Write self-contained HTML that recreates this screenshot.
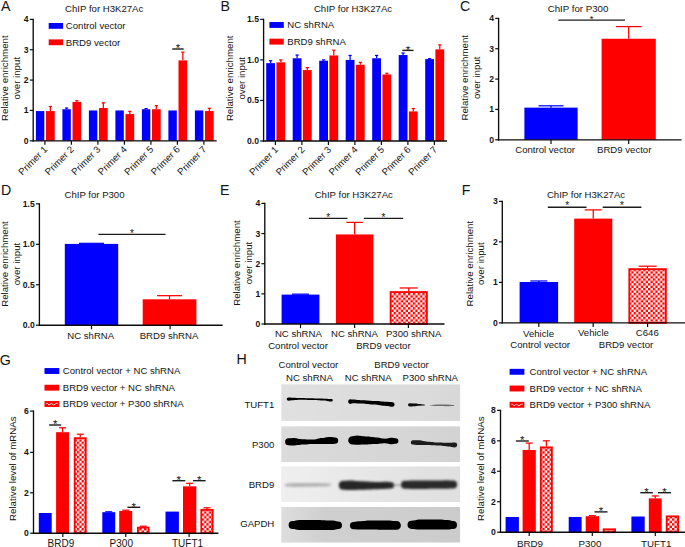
<!DOCTYPE html>
<html lang="en">
<head>
<meta charset="utf-8">
<title>BRD9 / P300 ChIP and expression figure</title>
<style>
html,body{margin:0;padding:0;background:#fff;}
body{width:685px;height:547px;overflow:hidden;}
svg{display:block;}
svg text{font-family:"Liberation Sans",Arial,Helvetica,sans-serif;}
</style>
</head>
<body>
<svg width="685" height="547" viewBox="0 0 685 547">
<rect width="685" height="547" fill="#fff"/>
<defs>
<pattern id="chk" width="4.8" height="4.8" patternUnits="userSpaceOnUse">
<rect width="4.8" height="4.8" fill="#fff"/>
<rect x="0" y="0" width="2.4" height="2.4" fill="#fe0000"/>
<rect x="2.4" y="2.4" width="2.4" height="2.4" fill="#fe0000"/>
</pattern>
<filter id="bl0" x="-5%" y="-60%" width="110%" height="220%"><feGaussianBlur stdDeviation="0.75"/></filter>
<filter id="bl1" x="-5%" y="-60%" width="110%" height="220%"><feGaussianBlur stdDeviation="1.2"/></filter>

<linearGradient id="gr0" x1="0" y1="0" x2="1" y2="0"><stop offset="0" stop-color="#fff" stop-opacity="0.12"/><stop offset="0.5" stop-color="#fff" stop-opacity="0"/><stop offset="1" stop-color="#000" stop-opacity="0.02"/></linearGradient>
<linearGradient id="gr1" x1="0" y1="0" x2="1" y2="0"><stop offset="0" stop-color="#fff" stop-opacity="0.12"/><stop offset="0.6" stop-color="#fff" stop-opacity="0"/><stop offset="1" stop-color="#000" stop-opacity="0.02"/></linearGradient>
<linearGradient id="gr2" x1="0" y1="0" x2="1" y2="0"><stop offset="0" stop-color="#fff" stop-opacity="0.35"/><stop offset="0.4" stop-color="#fff" stop-opacity="0.05"/><stop offset="1" stop-color="#000" stop-opacity="0.03"/></linearGradient>
<linearGradient id="gr3" x1="0" y1="0" x2="1" y2="0"><stop offset="0" stop-color="#fff" stop-opacity="0.3"/><stop offset="0.25" stop-color="#fff" stop-opacity="0"/><stop offset="1" stop-color="#000" stop-opacity="0.02"/></linearGradient>

<clipPath id="cp0"><rect x="281.2" y="384.2" width="179.1" height="36.7"/></clipPath><clipPath id="cp1"><rect x="281.2" y="426.2" width="179.1" height="35.8"/></clipPath><clipPath id="cp2"><rect x="281.2" y="466.3" width="179.1" height="35.7"/></clipPath><clipPath id="cp3"><rect x="281.2" y="506.8" width="179.1" height="35.9"/></clipPath>
</defs>
<text x="1.00" y="10.60" font-size="14.2" text-anchor="start" fill="#141414">A</text>
<text x="104.20" y="11.80" font-size="9.6" text-anchor="middle" fill="#141414">ChIP for H3K27Ac</text>
<text x="28.60" y="143.80" font-size="8.6" text-anchor="end" font-weight="bold" fill="#141414">0</text>
<text x="28.60" y="113.45" font-size="8.6" text-anchor="end" font-weight="bold" fill="#141414">1</text>
<text x="28.60" y="83.10" font-size="8.6" text-anchor="end" font-weight="bold" fill="#141414">2</text>
<text x="28.60" y="52.75" font-size="8.6" text-anchor="end" font-weight="bold" fill="#141414">3</text>
<text x="28.60" y="22.40" font-size="8.6" text-anchor="end" font-weight="bold" fill="#141414">4</text>
<text x="7.90" y="78.20" font-size="9.7" text-anchor="middle" transform="rotate(-90 7.90 78.20)" fill="#141414">Relative enrichment</text>
<text x="19.90" y="78.20" font-size="9.7" text-anchor="middle" transform="rotate(-90 19.90 78.20)" fill="#141414">over input</text>
<rect x="35.90" y="111.06" width="8.40" height="29.74" fill="#0000fe"/>
<line x1="50.35" y1="111.06" x2="50.35" y2="106.50" stroke="#fe0000" stroke-width="1.25"/>
<line x1="48.75" y1="106.50" x2="51.95" y2="106.50" stroke="#fe0000" stroke-width="1.25"/>
<rect x="46.00" y="111.06" width="8.70" height="29.74" fill="#fe0000"/>
<text x="48.00" y="150.10" font-size="9.6" text-anchor="end" transform="rotate(-45 48.00 150.10)" fill="#141414">Primer 1</text>
<line x1="66.60" y1="109.24" x2="66.60" y2="108.02" stroke="#0000fe" stroke-width="1.25"/>
<line x1="65.00" y1="108.02" x2="68.20" y2="108.02" stroke="#0000fe" stroke-width="1.25"/>
<rect x="62.40" y="109.24" width="8.40" height="31.56" fill="#0000fe"/>
<line x1="76.85" y1="101.95" x2="76.85" y2="100.74" stroke="#fe0000" stroke-width="1.25"/>
<line x1="75.25" y1="100.74" x2="78.45" y2="100.74" stroke="#fe0000" stroke-width="1.25"/>
<rect x="72.50" y="101.95" width="8.70" height="38.85" fill="#fe0000"/>
<text x="74.50" y="150.10" font-size="9.6" text-anchor="end" transform="rotate(-45 74.50 150.10)" fill="#141414">Primer 2</text>
<rect x="88.90" y="110.45" width="8.40" height="30.35" fill="#0000fe"/>
<line x1="103.35" y1="108.02" x2="103.35" y2="102.86" stroke="#fe0000" stroke-width="1.25"/>
<line x1="101.75" y1="102.86" x2="104.95" y2="102.86" stroke="#fe0000" stroke-width="1.25"/>
<rect x="99.00" y="108.02" width="8.70" height="32.78" fill="#fe0000"/>
<text x="101.00" y="150.10" font-size="9.6" text-anchor="end" transform="rotate(-45 101.00 150.10)" fill="#141414">Primer 3</text>
<rect x="115.40" y="110.45" width="8.40" height="30.35" fill="#0000fe"/>
<line x1="129.85" y1="114.09" x2="129.85" y2="111.36" stroke="#fe0000" stroke-width="1.25"/>
<line x1="128.25" y1="111.36" x2="131.45" y2="111.36" stroke="#fe0000" stroke-width="1.25"/>
<rect x="125.50" y="114.09" width="8.70" height="26.71" fill="#fe0000"/>
<text x="127.50" y="150.10" font-size="9.6" text-anchor="end" transform="rotate(-45 127.50 150.10)" fill="#141414">Primer 4</text>
<line x1="146.10" y1="109.24" x2="146.10" y2="108.63" stroke="#0000fe" stroke-width="1.25"/>
<line x1="144.50" y1="108.63" x2="147.70" y2="108.63" stroke="#0000fe" stroke-width="1.25"/>
<rect x="141.90" y="109.24" width="8.40" height="31.56" fill="#0000fe"/>
<line x1="156.35" y1="109.24" x2="156.35" y2="105.59" stroke="#fe0000" stroke-width="1.25"/>
<line x1="154.75" y1="105.59" x2="157.95" y2="105.59" stroke="#fe0000" stroke-width="1.25"/>
<rect x="152.00" y="109.24" width="8.70" height="31.56" fill="#fe0000"/>
<text x="154.00" y="150.10" font-size="9.6" text-anchor="end" transform="rotate(-45 154.00 150.10)" fill="#141414">Primer 5</text>
<rect x="168.40" y="110.45" width="8.40" height="30.35" fill="#0000fe"/>
<line x1="182.85" y1="60.37" x2="182.85" y2="52.18" stroke="#fe0000" stroke-width="1.25"/>
<line x1="181.25" y1="52.18" x2="184.45" y2="52.18" stroke="#fe0000" stroke-width="1.25"/>
<rect x="178.50" y="60.37" width="8.70" height="80.43" fill="#fe0000"/>
<text x="180.50" y="150.10" font-size="9.6" text-anchor="end" transform="rotate(-45 180.50 150.10)" fill="#141414">Primer 6</text>
<rect x="194.90" y="110.45" width="8.40" height="30.35" fill="#0000fe"/>
<line x1="209.35" y1="111.06" x2="209.35" y2="108.33" stroke="#fe0000" stroke-width="1.25"/>
<line x1="207.75" y1="108.33" x2="210.95" y2="108.33" stroke="#fe0000" stroke-width="1.25"/>
<rect x="205.00" y="111.06" width="8.70" height="29.74" fill="#fe0000"/>
<text x="207.00" y="150.10" font-size="9.6" text-anchor="end" transform="rotate(-45 207.00 150.10)" fill="#141414">Primer 7</text>
<rect x="48.70" y="23.00" width="14.40" height="5.80" fill="#0000fe"/>
<text x="65.80" y="29.00" font-size="9.6" text-anchor="start" fill="#141414">Control vector</text>
<rect x="48.70" y="39.40" width="14.40" height="5.80" fill="#fe0000"/>
<text x="65.80" y="45.50" font-size="9.6" text-anchor="start" fill="#141414">BRD9 vector</text>
<line x1="172.30" y1="49.00" x2="183.70" y2="49.00" stroke="#1c1c1c" stroke-width="1.4"/>
<text x="178.00" y="52.28" font-size="11.5" text-anchor="middle" fill="#141414">*</text>
<text x="220.60" y="10.60" font-size="14.2" text-anchor="start" fill="#141414">B</text>
<text x="353.00" y="11.80" font-size="9.6" text-anchor="middle" fill="#141414">ChIP for H3K27Ac</text>
<text x="259.00" y="144.00" font-size="8.6" text-anchor="end" font-weight="bold" fill="#141414">0.0</text>
<text x="259.00" y="103.45" font-size="8.6" text-anchor="end" font-weight="bold" fill="#141414">0.5</text>
<text x="259.00" y="62.90" font-size="8.6" text-anchor="end" font-weight="bold" fill="#141414">1.0</text>
<text x="259.00" y="22.35" font-size="8.6" text-anchor="end" font-weight="bold" fill="#141414">1.5</text>
<text x="232.90" y="78.30" font-size="9.7" text-anchor="middle" transform="rotate(-90 232.90 78.30)" fill="#141414">Relative enrichment</text>
<text x="244.60" y="78.30" font-size="9.7" text-anchor="middle" transform="rotate(-90 244.60 78.30)" fill="#141414">over input</text>
<line x1="270.60" y1="63.14" x2="270.60" y2="60.71" stroke="#0000fe" stroke-width="1.25"/>
<line x1="269.00" y1="60.71" x2="272.20" y2="60.71" stroke="#0000fe" stroke-width="1.25"/>
<rect x="266.20" y="63.14" width="8.80" height="77.86" fill="#0000fe"/>
<line x1="280.80" y1="62.33" x2="280.80" y2="59.90" stroke="#fe0000" stroke-width="1.25"/>
<line x1="279.20" y1="59.90" x2="282.40" y2="59.90" stroke="#fe0000" stroke-width="1.25"/>
<rect x="276.40" y="62.33" width="8.80" height="78.67" fill="#fe0000"/>
<text x="278.80" y="150.30" font-size="9.6" text-anchor="end" transform="rotate(-45 278.80 150.30)" fill="#141414">Primer 1</text>
<line x1="297.10" y1="58.28" x2="297.10" y2="55.03" stroke="#0000fe" stroke-width="1.25"/>
<line x1="295.50" y1="55.03" x2="298.70" y2="55.03" stroke="#0000fe" stroke-width="1.25"/>
<rect x="292.70" y="58.28" width="8.80" height="82.72" fill="#0000fe"/>
<line x1="307.30" y1="70.04" x2="307.30" y2="67.60" stroke="#fe0000" stroke-width="1.25"/>
<line x1="305.70" y1="67.60" x2="308.90" y2="67.60" stroke="#fe0000" stroke-width="1.25"/>
<rect x="302.90" y="70.04" width="8.80" height="70.96" fill="#fe0000"/>
<text x="305.30" y="150.30" font-size="9.6" text-anchor="end" transform="rotate(-45 305.30 150.30)" fill="#141414">Primer 2</text>
<line x1="323.60" y1="60.71" x2="323.60" y2="59.90" stroke="#0000fe" stroke-width="1.25"/>
<line x1="322.00" y1="59.90" x2="325.20" y2="59.90" stroke="#0000fe" stroke-width="1.25"/>
<rect x="319.20" y="60.71" width="8.80" height="80.29" fill="#0000fe"/>
<line x1="333.80" y1="55.44" x2="333.80" y2="50.17" stroke="#fe0000" stroke-width="1.25"/>
<line x1="332.20" y1="50.17" x2="335.40" y2="50.17" stroke="#fe0000" stroke-width="1.25"/>
<rect x="329.40" y="55.44" width="8.80" height="85.56" fill="#fe0000"/>
<text x="331.80" y="150.30" font-size="9.6" text-anchor="end" transform="rotate(-45 331.80 150.30)" fill="#141414">Primer 3</text>
<line x1="350.10" y1="59.90" x2="350.10" y2="55.44" stroke="#0000fe" stroke-width="1.25"/>
<line x1="348.50" y1="55.44" x2="351.70" y2="55.44" stroke="#0000fe" stroke-width="1.25"/>
<rect x="345.70" y="59.90" width="8.80" height="81.10" fill="#0000fe"/>
<line x1="360.30" y1="64.77" x2="360.30" y2="62.33" stroke="#fe0000" stroke-width="1.25"/>
<line x1="358.70" y1="62.33" x2="361.90" y2="62.33" stroke="#fe0000" stroke-width="1.25"/>
<rect x="355.90" y="64.77" width="8.80" height="76.23" fill="#fe0000"/>
<text x="358.30" y="150.30" font-size="9.6" text-anchor="end" transform="rotate(-45 358.30 150.30)" fill="#141414">Primer 4</text>
<line x1="376.60" y1="58.28" x2="376.60" y2="55.44" stroke="#0000fe" stroke-width="1.25"/>
<line x1="375.00" y1="55.44" x2="378.20" y2="55.44" stroke="#0000fe" stroke-width="1.25"/>
<rect x="372.20" y="58.28" width="8.80" height="82.72" fill="#0000fe"/>
<line x1="386.80" y1="74.50" x2="386.80" y2="73.28" stroke="#fe0000" stroke-width="1.25"/>
<line x1="385.20" y1="73.28" x2="388.40" y2="73.28" stroke="#fe0000" stroke-width="1.25"/>
<rect x="382.40" y="74.50" width="8.80" height="66.50" fill="#fe0000"/>
<text x="384.80" y="150.30" font-size="9.6" text-anchor="end" transform="rotate(-45 384.80 150.30)" fill="#141414">Primer 5</text>
<line x1="403.10" y1="55.03" x2="403.10" y2="53.01" stroke="#0000fe" stroke-width="1.25"/>
<line x1="401.50" y1="53.01" x2="404.70" y2="53.01" stroke="#0000fe" stroke-width="1.25"/>
<rect x="398.70" y="55.03" width="8.80" height="85.97" fill="#0000fe"/>
<line x1="413.30" y1="111.40" x2="413.30" y2="108.56" stroke="#fe0000" stroke-width="1.25"/>
<line x1="411.70" y1="108.56" x2="414.90" y2="108.56" stroke="#fe0000" stroke-width="1.25"/>
<rect x="408.90" y="111.40" width="8.80" height="29.60" fill="#fe0000"/>
<text x="411.30" y="150.30" font-size="9.6" text-anchor="end" transform="rotate(-45 411.30 150.30)" fill="#141414">Primer 6</text>
<line x1="429.60" y1="59.09" x2="429.60" y2="58.68" stroke="#0000fe" stroke-width="1.25"/>
<line x1="428.00" y1="58.68" x2="431.20" y2="58.68" stroke="#0000fe" stroke-width="1.25"/>
<rect x="425.20" y="59.09" width="8.80" height="81.91" fill="#0000fe"/>
<line x1="439.80" y1="49.36" x2="439.80" y2="44.90" stroke="#fe0000" stroke-width="1.25"/>
<line x1="438.20" y1="44.90" x2="441.40" y2="44.90" stroke="#fe0000" stroke-width="1.25"/>
<rect x="435.40" y="49.36" width="8.80" height="91.64" fill="#fe0000"/>
<text x="437.80" y="150.30" font-size="9.6" text-anchor="end" transform="rotate(-45 437.80 150.30)" fill="#141414">Primer 7</text>
<rect x="269.40" y="22.00" width="14.40" height="5.90" fill="#0000fe"/>
<text x="287.30" y="28.30" font-size="9.6" text-anchor="start" fill="#141414">NC shRNA</text>
<rect x="269.40" y="38.70" width="14.40" height="5.90" fill="#fe0000"/>
<text x="287.30" y="45.00" font-size="9.6" text-anchor="start" fill="#141414">BRD9 shRNA</text>
<line x1="402.30" y1="50.40" x2="413.50" y2="50.40" stroke="#1c1c1c" stroke-width="1.4"/>
<text x="407.90" y="53.68" font-size="11.5" text-anchor="middle" fill="#141414">*</text>
<text x="460.00" y="10.60" font-size="14.2" text-anchor="start" fill="#141414">C</text>
<text x="578.00" y="12.00" font-size="9.7" text-anchor="middle" fill="#141414">ChIP for P300</text>
<text x="494.00" y="142.80" font-size="8.6" text-anchor="end" font-weight="bold" fill="#141414">0</text>
<text x="494.00" y="112.45" font-size="8.6" text-anchor="end" font-weight="bold" fill="#141414">1</text>
<text x="494.00" y="82.10" font-size="8.6" text-anchor="end" font-weight="bold" fill="#141414">2</text>
<text x="494.00" y="51.75" font-size="8.6" text-anchor="end" font-weight="bold" fill="#141414">3</text>
<text x="494.00" y="21.40" font-size="8.6" text-anchor="end" font-weight="bold" fill="#141414">4</text>
<text x="468.50" y="77.80" font-size="9.7" text-anchor="middle" transform="rotate(-90 468.50 77.80)" fill="#141414">Relative enrichment</text>
<text x="480.50" y="77.80" font-size="9.7" text-anchor="middle" transform="rotate(-90 480.50 77.80)" fill="#141414">over input</text>
<line x1="551.00" y1="107.63" x2="551.00" y2="105.81" stroke="#0000fe" stroke-width="1.25"/>
<line x1="538.50" y1="105.81" x2="563.50" y2="105.81" stroke="#0000fe" stroke-width="1.25"/>
<rect x="524.40" y="107.63" width="53.20" height="32.17" fill="#0000fe"/>
<line x1="628.70" y1="38.73" x2="628.70" y2="26.59" stroke="#fe0000" stroke-width="1.25"/>
<line x1="615.95" y1="26.59" x2="641.45" y2="26.59" stroke="#fe0000" stroke-width="1.25"/>
<rect x="601.60" y="38.73" width="54.20" height="101.07" fill="#fe0000"/>
<text x="545.10" y="153.30" font-size="9.6" text-anchor="middle" fill="#141414">Control vector</text>
<text x="624.20" y="153.30" font-size="9.6" text-anchor="middle" fill="#141414">BRD9 vector</text>
<line x1="558.40" y1="20.10" x2="625.00" y2="20.10" stroke="#1c1c1c" stroke-width="1.4"/>
<text x="591.70" y="22.13" font-size="9.5" text-anchor="middle" fill="#141414">*</text>
<text x="1.00" y="195.00" font-size="14.2" text-anchor="start" fill="#141414">D</text>
<text x="94.50" y="198.40" font-size="9.6" text-anchor="middle" fill="#141414">ChIP for P300</text>
<text x="34.80" y="328.20" font-size="8.6" text-anchor="end" font-weight="bold" fill="#141414">0.0</text>
<text x="34.80" y="287.75" font-size="8.6" text-anchor="end" font-weight="bold" fill="#141414">0.5</text>
<text x="34.80" y="247.30" font-size="8.6" text-anchor="end" font-weight="bold" fill="#141414">1.0</text>
<text x="34.80" y="206.85" font-size="8.6" text-anchor="end" font-weight="bold" fill="#141414">1.5</text>
<text x="7.60" y="264.00" font-size="9.7" text-anchor="middle" transform="rotate(-90 7.60 264.00)" fill="#141414">Relative enrichment</text>
<text x="19.80" y="264.00" font-size="9.7" text-anchor="middle" transform="rotate(-90 19.80 264.00)" fill="#141414">over input</text>
<line x1="91.50" y1="243.90" x2="91.50" y2="243.33" stroke="#0000fe" stroke-width="1.25"/>
<line x1="79.00" y1="243.33" x2="104.00" y2="243.33" stroke="#0000fe" stroke-width="1.25"/>
<rect x="64.80" y="243.90" width="53.40" height="81.30" fill="#0000fe"/>
<line x1="169.55" y1="299.31" x2="169.55" y2="295.67" stroke="#fe0000" stroke-width="1.25"/>
<line x1="157.05" y1="295.67" x2="182.05" y2="295.67" stroke="#fe0000" stroke-width="1.25"/>
<rect x="142.70" y="299.31" width="53.70" height="25.89" fill="#fe0000"/>
<text x="90.70" y="339.00" font-size="9.6" text-anchor="middle" fill="#141414">NC shRNA</text>
<text x="169.00" y="339.00" font-size="9.6" text-anchor="middle" fill="#141414">BRD9 shRNA</text>
<line x1="98.40" y1="234.40" x2="165.50" y2="234.40" stroke="#1c1c1c" stroke-width="1.4"/>
<text x="131.95" y="236.82" font-size="10" text-anchor="middle" fill="#141414">*</text>
<text x="220.00" y="195.00" font-size="14.2" text-anchor="start" fill="#141414">E</text>
<text x="353.80" y="198.20" font-size="9.6" text-anchor="middle" fill="#141414">ChIP for H3K27Ac</text>
<text x="260.20" y="327.00" font-size="8.6" text-anchor="end" font-weight="bold" fill="#141414">0</text>
<text x="260.20" y="296.85" font-size="8.6" text-anchor="end" font-weight="bold" fill="#141414">1</text>
<text x="260.20" y="266.70" font-size="8.6" text-anchor="end" font-weight="bold" fill="#141414">2</text>
<text x="260.20" y="236.55" font-size="8.6" text-anchor="end" font-weight="bold" fill="#141414">3</text>
<text x="260.20" y="206.40" font-size="8.6" text-anchor="end" font-weight="bold" fill="#141414">4</text>
<text x="240.40" y="263.00" font-size="9.7" text-anchor="middle" transform="rotate(-90 240.40 263.00)" fill="#141414">Relative enrichment</text>
<text x="252.40" y="263.00" font-size="9.7" text-anchor="middle" transform="rotate(-90 252.40 263.00)" fill="#141414">over input</text>
<line x1="300.50" y1="294.60" x2="300.50" y2="294.15" stroke="#0000fe" stroke-width="1.25"/>
<line x1="292.00" y1="294.15" x2="309.00" y2="294.15" stroke="#0000fe" stroke-width="1.25"/>
<rect x="281.60" y="294.60" width="37.80" height="29.40" fill="#0000fe"/>
<line x1="354.65" y1="234.45" x2="354.65" y2="222.39" stroke="#fe0000" stroke-width="1.25"/>
<line x1="346.40" y1="222.39" x2="362.90" y2="222.39" stroke="#fe0000" stroke-width="1.25"/>
<rect x="335.90" y="234.45" width="37.50" height="89.55" fill="#fe0000"/>
<line x1="408.75" y1="291.14" x2="408.75" y2="287.97" stroke="#fe0000" stroke-width="1.25"/>
<line x1="399.75" y1="287.97" x2="417.75" y2="287.97" stroke="#fe0000" stroke-width="1.25"/>
<rect x="390.60" y="292.04" width="36.30" height="31.96" fill="url(#chk)" stroke="#fe0000" stroke-width="1.8"/>
<text x="298.40" y="337.00" font-size="9.6" text-anchor="middle" fill="#141414">NC shRNA</text>
<text x="354.50" y="337.00" font-size="9.6" text-anchor="middle" fill="#141414">NC shRNA</text>
<text x="413.70" y="337.00" font-size="9.6" text-anchor="middle" fill="#141414">P300 shRNA</text>
<text x="298.00" y="349.00" font-size="9.6" text-anchor="middle" fill="#141414">Control vector</text>
<text x="383.40" y="349.00" font-size="9.6" text-anchor="middle" fill="#141414">BRD9 vector</text>
<line x1="308.90" y1="218.40" x2="347.40" y2="218.40" stroke="#1c1c1c" stroke-width="1.4"/>
<text x="328.15" y="220.72" font-size="10" text-anchor="middle" fill="#141414">*</text>
<line x1="363.90" y1="218.40" x2="403.20" y2="218.40" stroke="#1c1c1c" stroke-width="1.4"/>
<text x="383.55" y="220.72" font-size="10" text-anchor="middle" fill="#141414">*</text>
<text x="461.80" y="195.20" font-size="14.2" text-anchor="start" fill="#141414">F</text>
<text x="586.00" y="198.00" font-size="9.6" text-anchor="middle" fill="#141414">ChIP for H3K27Ac</text>
<text x="497.70" y="325.90" font-size="8.6" text-anchor="end" font-weight="bold" fill="#141414">0</text>
<text x="497.70" y="285.40" font-size="8.6" text-anchor="end" font-weight="bold" fill="#141414">1</text>
<text x="497.70" y="244.90" font-size="8.6" text-anchor="end" font-weight="bold" fill="#141414">2</text>
<text x="497.70" y="204.40" font-size="8.6" text-anchor="end" font-weight="bold" fill="#141414">3</text>
<text x="472.60" y="263.60" font-size="9.7" text-anchor="middle" transform="rotate(-90 472.60 263.60)" fill="#141414">Relative enrichment</text>
<text x="483.70" y="263.60" font-size="9.7" text-anchor="middle" transform="rotate(-90 483.70 263.60)" fill="#141414">over input</text>
<line x1="538.85" y1="282.00" x2="538.85" y2="280.98" stroke="#0000fe" stroke-width="1.25"/>
<line x1="530.35" y1="280.98" x2="547.35" y2="280.98" stroke="#0000fe" stroke-width="1.25"/>
<rect x="519.60" y="282.00" width="38.50" height="40.90" fill="#0000fe"/>
<line x1="593.25" y1="218.61" x2="593.25" y2="209.90" stroke="#fe0000" stroke-width="1.25"/>
<line x1="584.75" y1="209.90" x2="601.75" y2="209.90" stroke="#fe0000" stroke-width="1.25"/>
<rect x="574.20" y="218.61" width="38.10" height="104.29" fill="#fe0000"/>
<line x1="647.60" y1="268.22" x2="647.60" y2="266.20" stroke="#fe0000" stroke-width="1.25"/>
<line x1="638.60" y1="266.20" x2="656.60" y2="266.20" stroke="#fe0000" stroke-width="1.25"/>
<rect x="629.30" y="269.12" width="36.60" height="53.78" fill="url(#chk)" stroke="#fe0000" stroke-width="1.8"/>
<text x="538.50" y="337.20" font-size="9.6" text-anchor="middle" fill="#141414">Vehicle</text>
<text x="593.40" y="336.20" font-size="9.6" text-anchor="middle" fill="#141414">Vehicle</text>
<text x="647.30" y="336.20" font-size="9.6" text-anchor="middle" fill="#141414">C646</text>
<text x="540.20" y="348.40" font-size="9.6" text-anchor="middle" fill="#141414">Control vector</text>
<text x="626.00" y="348.40" font-size="9.6" text-anchor="middle" fill="#141414">BRD9 vector</text>
<line x1="547.80" y1="207.20" x2="586.50" y2="207.20" stroke="#1c1c1c" stroke-width="1.4"/>
<text x="567.15" y="209.42" font-size="10" text-anchor="middle" fill="#141414">*</text>
<line x1="602.70" y1="207.20" x2="641.40" y2="207.20" stroke="#1c1c1c" stroke-width="1.4"/>
<text x="622.05" y="209.42" font-size="10" text-anchor="middle" fill="#141414">*</text>
<text x="-0.30" y="365.40" font-size="14.2" text-anchor="start" fill="#141414">G</text>
<rect x="44.50" y="368.05" width="14.80" height="5.90" fill="#0000fe"/>
<text x="62.80" y="374.30" font-size="9.6" text-anchor="start" fill="#141414">Control vector + NC shRNA</text>
<rect x="44.50" y="384.75" width="14.80" height="5.90" fill="#fe0000"/>
<text x="62.80" y="391.00" font-size="9.6" text-anchor="start" fill="#141414">BRD9 vector + NC shRNA</text>
<rect x="44.50" y="401.05" width="14.80" height="5.90" fill="#fe0000"/>
<polyline points="46.2,403.4 47.5,403.4 48.9,405.0 51.2,403.4 53.8,405.0 56.2,403.4 57.7,403.4" fill="none" stroke="#fff" stroke-width="1" stroke-opacity="0.85"/>
<text x="62.80" y="407.30" font-size="9.6" text-anchor="start" fill="#141414">BRD9 vector + P300 shRNA</text>
<text x="28.90" y="536.20" font-size="8.6" text-anchor="end" font-weight="bold" fill="#141414">0</text>
<text x="28.90" y="495.80" font-size="8.6" text-anchor="end" font-weight="bold" fill="#141414">2</text>
<text x="28.90" y="455.40" font-size="8.6" text-anchor="end" font-weight="bold" fill="#141414">4</text>
<text x="28.90" y="414.10" font-size="8.6" text-anchor="end" font-weight="bold" fill="#141414">6</text>
<text x="16.40" y="468.70" font-size="9.7" text-anchor="middle" transform="rotate(-90 16.40 468.70)" fill="#141414">Relative level of mRNAs</text>
<rect x="38.80" y="513.00" width="12.90" height="20.20" fill="#0000fe"/>
<line x1="62.55" y1="432.20" x2="62.55" y2="427.76" stroke="#fe0000" stroke-width="1.25"/>
<line x1="59.05" y1="427.76" x2="66.05" y2="427.76" stroke="#fe0000" stroke-width="1.25"/>
<rect x="56.10" y="432.20" width="12.90" height="101.00" fill="#fe0000"/>
<line x1="80.25" y1="437.25" x2="80.25" y2="434.22" stroke="#fe0000" stroke-width="1.25"/>
<line x1="76.75" y1="434.22" x2="83.75" y2="434.22" stroke="#fe0000" stroke-width="1.25"/>
<rect x="74.70" y="438.15" width="11.10" height="95.05" fill="url(#chk)" stroke="#fe0000" stroke-width="1.8"/>
<line x1="108.75" y1="512.19" x2="108.75" y2="511.79" stroke="#0000fe" stroke-width="1.25"/>
<line x1="105.25" y1="511.79" x2="112.25" y2="511.79" stroke="#0000fe" stroke-width="1.25"/>
<rect x="102.30" y="512.19" width="12.90" height="21.01" fill="#0000fe"/>
<line x1="125.70" y1="510.98" x2="125.70" y2="510.17" stroke="#fe0000" stroke-width="1.25"/>
<line x1="122.20" y1="510.17" x2="129.20" y2="510.17" stroke="#fe0000" stroke-width="1.25"/>
<rect x="119.20" y="510.98" width="13.00" height="22.22" fill="#fe0000"/>
<line x1="143.30" y1="526.74" x2="143.30" y2="526.23" stroke="#fe0000" stroke-width="1.25"/>
<line x1="139.80" y1="526.23" x2="146.80" y2="526.23" stroke="#fe0000" stroke-width="1.25"/>
<rect x="137.90" y="527.64" width="10.80" height="5.56" fill="url(#chk)" stroke="#fe0000" stroke-width="1.8"/>
<rect x="165.50" y="511.59" width="13.40" height="21.61" fill="#0000fe"/>
<line x1="189.65" y1="486.34" x2="189.65" y2="483.31" stroke="#fe0000" stroke-width="1.25"/>
<line x1="186.15" y1="483.31" x2="193.15" y2="483.31" stroke="#fe0000" stroke-width="1.25"/>
<rect x="183.00" y="486.34" width="13.30" height="46.86" fill="#fe0000"/>
<line x1="207.00" y1="508.96" x2="207.00" y2="507.75" stroke="#fe0000" stroke-width="1.25"/>
<line x1="203.50" y1="507.75" x2="210.50" y2="507.75" stroke="#fe0000" stroke-width="1.25"/>
<rect x="201.30" y="509.86" width="11.40" height="23.34" fill="url(#chk)" stroke="#fe0000" stroke-width="1.8"/>
<text x="60.90" y="546.80" font-size="10" text-anchor="middle" fill="#141414">BRD9</text>
<text x="121.30" y="546.80" font-size="10" text-anchor="middle" fill="#141414">P300</text>
<text x="187.50" y="546.80" font-size="10" text-anchor="middle" fill="#141414">TUFT1</text>
<line x1="49.10" y1="425.00" x2="61.20" y2="425.00" stroke="#1c1c1c" stroke-width="1.4"/>
<text x="55.15" y="428.28" font-size="11.5" text-anchor="middle" fill="#141414">*</text>
<line x1="127.40" y1="507.30" x2="140.30" y2="507.30" stroke="#1c1c1c" stroke-width="1.4"/>
<text x="133.85" y="510.58" font-size="11.5" text-anchor="middle" fill="#141414">*</text>
<line x1="172.40" y1="480.70" x2="185.30" y2="480.70" stroke="#1c1c1c" stroke-width="1.4"/>
<text x="178.85" y="483.98" font-size="11.5" text-anchor="middle" fill="#141414">*</text>
<line x1="193.10" y1="480.70" x2="205.60" y2="480.70" stroke="#1c1c1c" stroke-width="1.4"/>
<text x="199.35" y="483.98" font-size="11.5" text-anchor="middle" fill="#141414">*</text>
<text x="236.60" y="364.40" font-size="14.2" text-anchor="start" fill="#141414">H</text>
<text x="308.40" y="368.40" font-size="9.6" text-anchor="middle" fill="#141414">Control vector</text>
<text x="401.50" y="368.40" font-size="9.6" text-anchor="middle" fill="#141414">BRD9 vector</text>
<text x="309.50" y="381.00" font-size="9.6" text-anchor="middle" fill="#141414">NC shRNA</text>
<text x="368.20" y="381.00" font-size="9.6" text-anchor="middle" fill="#141414">NC shRNA</text>
<text x="430.30" y="381.00" font-size="9.6" text-anchor="middle" fill="#141414">P300 shRNA</text>
<text x="274.30" y="408.00" font-size="9.6" text-anchor="end" fill="#141414">TUFT1</text>
<text x="274.30" y="448.20" font-size="9.6" text-anchor="end" fill="#141414">P300</text>
<text x="274.30" y="488.10" font-size="9.6" text-anchor="end" fill="#141414">BRD9</text>
<text x="274.30" y="527.00" font-size="9.6" text-anchor="end" fill="#141414">GAPDH</text>
<g clip-path="url(#cp0)">
<rect x="281.20" y="384.20" width="179.10" height="36.70" fill="#dcdcdc"/>
<rect x="281.20" y="384.20" width="179.10" height="36.70" fill="url(#gr0)"/>
<g filter="url(#bl0)">
<path d="M288.4,397.4 L290.2,397.6 L292.0,397.7 L293.6,397.7 L295.2,397.8 L296.8,397.9 L298.4,398.0 L300.0,398.0 L301.5,398.1 L303.0,398.1 L304.5,398.1 L306.0,398.2 L307.5,398.2 L309.0,398.3 L310.5,398.3 L312.0,398.3 L313.5,398.3 L315.0,398.4 L316.5,398.4 L318.0,398.5 L319.5,398.5 L321.0,398.6 L322.5,398.6 L324.0,398.7 L325.5,398.7 L327.0,398.8 L328.6,398.9 L330.1,399.1 L331.6,399.1 A1.2,1.2 0 0 1 331.6,401.5 L330.1,401.4 L328.6,401.2 L327.0,400.9 L325.5,400.6 L324.0,400.6 L322.5,400.5 L321.0,400.5 L319.5,400.3 L318.0,400.2 L316.5,400.1 L315.0,400.0 L313.5,399.9 L312.0,399.9 L310.5,399.9 L309.0,399.9 L307.5,399.9 L306.0,399.8 L304.5,399.8 L303.0,399.8 L301.5,399.8 L300.0,399.8 L298.4,399.8 L296.8,399.9 L295.2,400.1 L293.6,400.2 L292.0,400.3 L290.2,400.6 L288.4,400.8 A1.7,1.7 0 0 1 288.4,397.4 Z" fill="#050505" fill-opacity="1.0"/>
<path d="M350.4,399.3 L351.7,399.4 L353.0,399.6 L354.5,399.6 L356.0,399.8 L357.5,399.9 L359.0,400.0 L360.5,400.2 L362.0,400.2 L363.5,400.2 L365.0,400.3 L366.5,400.4 L368.0,400.5 L369.5,400.7 L371.0,400.8 L372.5,400.9 L374.0,400.9 L375.5,400.9 L377.0,401.0 L378.5,401.1 L380.0,401.3 L381.5,401.5 L383.0,401.6 L384.5,401.7 L386.0,401.7 L387.6,401.8 L389.1,401.9 L390.7,402.1 L392.3,402.2 A2.3,2.3 0 0 1 392.3,406.8 L390.7,406.7 L389.1,406.3 L387.6,406.0 L386.0,405.9 L384.5,405.8 L383.0,405.7 L381.5,405.5 L380.0,405.2 L378.5,404.9 L377.0,404.7 L375.5,404.6 L374.0,404.5 L372.5,404.5 L371.0,404.4 L369.5,404.2 L368.0,404.0 L366.5,403.9 L365.0,403.7 L363.5,403.6 L362.0,403.6 L360.5,403.6 L359.0,403.5 L357.5,403.4 L356.0,403.3 L354.5,403.2 L353.0,403.2 L351.7,403.6 L350.4,403.9 A2.3,2.3 0 0 1 350.4,399.3 Z" fill="#050505" fill-opacity="1.0"/>
<path d="M409.6,403.2 L411.4,403.2 L413.2,403.4 L415.0,403.4 L416.7,403.6 L418.3,403.9 L420.0,404.1 L421.7,404.3 L423.3,404.6 L425.0,404.8 A0.2,0.2 0 0 1 425.0,405.2 L423.3,405.4 L421.7,405.6 L420.0,405.7 L418.3,405.8 L416.7,406.1 L415.0,406.2 L413.2,406.2 L411.4,406.4 L409.6,406.4 A1.6,1.6 0 0 1 409.6,403.2 Z" fill="#0c0c0c" fill-opacity="1.0"/>
<path d="M430.0,404.9 L431.6,404.9 L433.2,404.8 L434.8,404.7 L436.4,404.6 L438.0,404.6 L439.7,404.6 L441.3,404.6 L443.0,404.6 L444.7,404.6 L446.3,404.6 L448.0,404.6 L449.5,404.7 L451.0,404.8 L452.5,405.0 L454.0,405.1 A0.5,0.5 0 0 1 454.0,405.9 L452.5,406.0 L451.0,406.1 L449.5,406.2 L448.0,406.2 L446.3,406.2 L444.7,406.2 L443.0,406.1 L441.3,406.1 L439.7,406.1 L438.0,406.1 L436.4,406.0 L434.8,405.9 L433.2,405.7 L431.6,405.6 L430.0,405.5 A0.3,0.3 0 0 1 430.0,404.9 Z" fill="#4a4a4a" fill-opacity="0.75"/>
</g></g>
<g clip-path="url(#cp1)">
<rect x="281.20" y="426.20" width="179.10" height="35.80" fill="#d6d6d6"/>
<rect x="281.20" y="426.20" width="179.10" height="35.80" fill="url(#gr1)"/>
<g filter="url(#bl0)">
<path d="M288.6,438.3 L290.8,438.2 L293.0,438.0 L294.5,438.1 L296.0,438.3 L297.5,438.6 L299.0,438.9 L300.5,439.1 L302.0,439.2 L303.6,439.2 L305.1,439.3 L306.7,439.4 L308.3,439.4 L309.9,439.5 L311.4,439.6 L313.0,439.6 L314.5,439.5 L316.0,439.2 L317.5,438.8 L319.0,438.4 L320.5,438.1 L322.0,438.0 L323.6,437.9 L325.2,437.6 L326.8,437.2 L328.4,437.0 L330.0,436.9 L331.7,437.0 L333.3,437.3 L335.0,437.4 A3.2,3.2 0 0 1 335.0,443.8 L333.3,443.9 L331.7,444.1 L330.0,444.1 L328.4,444.1 L326.8,444.1 L325.2,444.1 L323.6,444.0 L322.0,444.0 L320.5,444.0 L319.0,444.0 L317.5,444.0 L316.0,444.0 L314.5,444.0 L313.0,444.0 L311.4,444.0 L309.9,444.1 L308.3,444.2 L306.7,444.4 L305.1,444.5 L303.6,444.6 L302.0,444.6 L300.5,444.7 L299.0,444.9 L297.5,445.1 L296.0,445.3 L294.5,445.5 L293.0,445.6 L290.8,445.4 L288.6,445.3 A3.5,3.5 0 0 1 288.6,438.3 Z" fill="#050505" fill-opacity="1.0"/>
<path d="M352.4,436.2 L353.9,436.0 L355.5,435.8 L357.0,435.6 L358.5,435.7 L360.0,435.8 L361.5,436.0 L363.0,436.2 L364.5,436.3 L366.0,436.4 L367.7,436.5 L369.3,436.6 L371.0,436.9 L372.7,437.1 L374.3,437.3 L376.0,437.4 L377.5,437.5 L379.0,437.7 L380.5,438.0 L382.0,438.4 L383.5,438.6 L385.0,438.7 L386.8,438.6 L388.5,438.2 L390.2,437.8 L392.0,437.7 L393.8,437.9 L395.6,438.2 A2.8,2.8 0 0 1 395.6,443.8 L393.8,444.1 L392.0,444.3 L390.2,444.2 L388.5,443.8 L386.8,443.4 L385.0,443.3 L383.5,443.3 L382.0,443.5 L380.5,443.6 L379.0,443.8 L377.5,444.0 L376.0,444.0 L374.3,444.0 L372.7,444.1 L371.0,444.2 L369.3,444.3 L367.7,444.4 L366.0,444.4 L364.5,444.4 L363.0,444.5 L361.5,444.6 L360.0,444.7 L358.5,444.8 L357.0,444.8 L355.5,444.8 L353.9,444.6 L352.4,444.6 A4.2,4.2 0 0 1 352.4,436.2 Z" fill="#050505" fill-opacity="1.0"/>
<path d="M413.0,440.2 L414.7,440.2 L416.3,440.2 L418.0,440.2 L419.7,440.3 L421.3,440.6 L423.0,440.9 L424.7,441.3 L426.3,441.6 L428.0,441.7 L429.7,441.8 L431.3,441.9 L433.0,442.1 L434.7,442.4 L436.3,442.5 L438.0,442.6 L439.7,442.6 L441.3,442.6 L443.0,442.7 L444.7,442.8 L446.3,442.8 L448.0,442.8 L449.7,442.8 L451.4,442.7 L453.1,442.6 L454.8,442.6 A2.4,2.4 0 0 1 454.8,447.4 L453.1,447.3 L451.4,446.9 L449.7,446.5 L448.0,446.4 L446.3,446.3 L444.7,446.1 L443.0,445.9 L441.3,445.6 L439.7,445.5 L438.0,445.4 L436.3,445.4 L434.7,445.3 L433.0,445.2 L431.3,445.2 L429.7,445.1 L428.0,445.1 L426.3,445.1 L424.7,445.1 L423.0,445.1 L421.3,445.0 L419.7,445.0 L418.0,445.0 L416.3,444.9 L414.7,444.7 L413.0,444.6 A2.2,2.2 0 0 1 413.0,440.2 Z" fill="#1a1a1a" fill-opacity="1.0"/>
</g></g>
<g clip-path="url(#cp2)">
<rect x="281.20" y="466.30" width="179.10" height="35.70" fill="#e7e7e7"/>
<rect x="281.20" y="466.30" width="179.10" height="35.70" fill="url(#gr2)"/>
<g filter="url(#bl1)">
<path d="M286.5,483.4 L288.2,483.4 L289.9,483.3 L291.6,483.2 L293.3,483.1 L295.0,483.1 L296.5,483.1 L298.1,483.1 L299.6,483.1 L301.2,483.1 L302.7,483.1 L304.3,483.0 L305.8,483.0 L307.4,483.0 L308.9,483.0 L310.5,483.0 L312.0,483.0 L313.6,483.0 L315.2,483.0 L316.9,483.1 L318.5,483.1 L320.1,483.1 L321.8,483.2 L323.4,483.2 L325.0,483.2 L326.5,483.3 L328.0,483.4 L329.5,483.5 A1.3,1.3 0 0 1 329.5,486.1 L328.0,486.2 L326.5,486.3 L325.0,486.4 L323.4,486.4 L321.8,486.5 L320.1,486.5 L318.5,486.6 L316.9,486.7 L315.2,486.7 L313.6,486.8 L312.0,486.8 L310.5,486.8 L308.9,486.8 L307.4,486.8 L305.8,486.8 L304.3,486.8 L302.7,486.9 L301.2,486.9 L299.6,486.9 L298.1,486.9 L296.5,486.9 L295.0,486.9 L293.3,486.9 L291.6,486.7 L289.9,486.6 L288.2,486.4 L286.5,486.4 A1.5,1.5 0 0 1 286.5,483.4 Z" fill="#8a8a8a" fill-opacity="0.58"/>
<path d="M343.2,480.8 L344.9,480.8 L346.6,480.7 L348.3,480.5 L350.0,480.5 L351.5,480.5 L353.0,480.6 L354.5,480.7 L356.0,480.9 L357.5,481.1 L359.0,481.2 L360.5,481.3 L362.0,481.3 L363.6,481.3 L365.1,481.4 L366.7,481.4 L368.2,481.5 L369.8,481.7 L371.3,481.8 L372.9,481.8 L374.4,481.9 L376.0,481.9 L377.5,481.9 L379.0,481.9 L380.5,481.9 L382.0,481.9 L383.5,481.8 L385.0,481.8 L386.5,481.8 L388.0,481.8 L389.6,482.0 L391.2,482.2 A3.1,3.1 0 0 1 391.2,488.4 L389.6,488.6 L388.0,488.8 L386.5,488.8 L385.0,488.9 L383.5,489.0 L382.0,489.1 L380.5,489.1 L379.0,489.2 L377.5,489.3 L376.0,489.3 L374.4,489.3 L372.9,489.3 L371.3,489.4 L369.8,489.5 L368.2,489.5 L366.7,489.6 L365.1,489.7 L363.6,489.7 L362.0,489.7 L360.5,489.7 L359.0,489.8 L357.5,489.8 L356.0,489.9 L354.5,490.0 L353.0,490.0 L351.5,490.1 L350.0,490.1 L348.3,490.1 L346.6,489.9 L344.9,489.8 L343.2,489.8 A4.5,4.5 0 0 1 343.2,480.8 Z" fill="#262626" fill-opacity="1.0"/>
<path d="M393.0,484.4 L394.5,484.4 L396.0,484.3 L397.5,484.3 L399.0,484.2 L400.5,484.2 L402.0,484.2 A0.8,0.8 0 0 1 402.0,485.8 L400.5,485.8 L399.0,485.9 L397.5,485.9 L396.0,485.9 L394.5,486.0 L393.0,486.0 A0.8,0.8 0 0 1 393.0,484.4 Z" fill="#777" fill-opacity="0.6"/>
<path d="M405.0,480.7 L406.7,480.7 L408.3,480.7 L410.0,480.6 L411.7,480.6 L413.3,480.6 L415.0,480.6 L416.5,480.6 L418.1,480.6 L419.6,480.6 L421.2,480.6 L422.7,480.6 L424.2,480.6 L425.8,480.6 L427.3,480.6 L428.8,480.6 L430.4,480.6 L431.9,480.6 L433.5,480.6 L435.0,480.6 L436.6,480.6 L438.2,480.6 L439.9,480.5 L441.5,480.5 L443.1,480.4 L444.8,480.3 L446.4,480.3 L448.0,480.3 L449.7,480.4 L451.5,480.5 L453.2,480.6 A3.9,3.9 0 0 1 453.2,488.4 L451.5,488.5 L449.7,488.6 L448.0,488.7 L446.4,488.7 L444.8,488.7 L443.1,488.7 L441.5,488.8 L439.9,488.8 L438.2,488.8 L436.6,488.8 L435.0,488.8 L433.5,488.8 L431.9,488.8 L430.4,488.8 L428.8,488.8 L427.3,488.9 L425.8,488.9 L424.2,488.9 L422.7,488.9 L421.2,489.0 L419.6,489.0 L418.1,489.0 L416.5,489.0 L415.0,489.0 L413.3,489.0 L411.7,488.9 L410.0,488.9 L408.3,488.8 L406.7,488.7 L405.0,488.7 A4.0,4.0 0 0 1 405.0,480.7 Z" fill="#2c2c2c" fill-opacity="1.0"/>
</g></g>
<g clip-path="url(#cp3)">
<rect x="281.20" y="506.80" width="179.10" height="35.90" fill="#cfcfcf"/>
<rect x="281.20" y="506.80" width="179.10" height="35.90" fill="url(#gr3)"/>
<g filter="url(#bl0)">
<path d="M292.6,521.0 L294.2,520.9 L295.8,520.5 L297.4,520.2 L299.0,520.1 L300.5,520.1 L302.0,520.1 L303.5,520.1 L305.0,520.1 L306.5,520.1 L308.0,520.1 L309.5,520.1 L311.0,520.1 L312.5,520.1 L314.0,520.1 L315.5,520.1 L317.0,520.1 L318.5,520.1 L320.0,520.1 L321.6,520.2 L323.2,520.2 L324.9,520.3 L326.5,520.4 L328.1,520.5 L329.8,520.5 L331.4,520.6 L333.0,520.6 L334.7,520.8 L336.5,521.3 L338.2,521.5 A3.8,3.8 0 0 1 338.2,529.1 L336.5,529.3 L334.7,529.8 L333.0,530.0 L331.4,530.0 L329.8,530.0 L328.1,530.0 L326.5,530.0 L324.9,530.0 L323.2,530.0 L321.6,530.0 L320.0,530.1 L318.5,530.0 L317.0,530.0 L315.5,530.0 L314.0,530.0 L312.5,530.0 L311.0,530.0 L309.5,530.0 L308.0,530.0 L306.5,529.9 L305.0,529.9 L303.5,529.9 L302.0,529.9 L300.5,529.9 L299.0,529.9 L297.4,529.8 L295.8,529.5 L294.2,529.1 L292.6,529.0 A4.0,4.0 0 0 1 292.6,521.0 Z" fill="#000" fill-opacity="1.0"/>
<path d="M353.6,521.9 L355.2,521.8 L356.8,521.5 L358.4,521.3 L360.0,521.2 L361.5,521.2 L363.0,521.1 L364.5,521.0 L366.0,520.8 L367.5,520.6 L369.0,520.5 L370.5,520.4 L372.0,520.4 L373.6,520.4 L375.2,520.4 L376.8,520.4 L378.4,520.5 L380.0,520.5 L381.6,520.5 L383.2,520.6 L384.8,520.6 L386.4,520.6 L388.0,520.6 L389.7,520.6 L391.4,520.8 L393.2,520.9 L394.9,521.1 L396.6,521.1 A4.3,4.3 0 0 1 396.6,529.7 L394.9,529.7 L393.2,529.7 L391.4,529.8 L389.7,529.8 L388.0,529.8 L386.4,529.8 L384.8,529.8 L383.2,529.8 L381.6,529.7 L380.0,529.7 L378.4,529.7 L376.8,529.6 L375.2,529.6 L373.6,529.6 L372.0,529.6 L370.5,529.6 L369.0,529.6 L367.5,529.6 L366.0,529.6 L364.5,529.6 L363.0,529.6 L361.5,529.6 L360.0,529.6 L358.4,529.6 L356.8,529.5 L355.2,529.3 L353.6,529.3 A3.7,3.7 0 0 1 353.6,521.9 Z" fill="#000" fill-opacity="1.0"/>
<path d="M411.6,520.7 L413.5,520.5 L415.3,520.2 L417.1,519.8 L419.0,519.6 L420.5,519.6 L422.0,519.6 L423.5,519.6 L425.0,519.6 L426.5,519.6 L428.0,519.6 L429.5,519.6 L431.0,519.6 L432.5,519.6 L434.0,519.6 L435.5,519.6 L437.0,519.6 L438.5,519.6 L440.0,519.6 L441.6,519.6 L443.2,519.7 L444.8,519.9 L446.4,520.0 L448.0,520.0 L449.7,520.2 L451.3,520.7 L453.0,520.9 A4.0,4.0 0 0 1 453.0,528.9 L451.3,529.1 L449.7,529.4 L448.0,529.6 L446.4,529.6 L444.8,529.6 L443.2,529.6 L441.6,529.6 L440.0,529.6 L438.5,529.6 L437.0,529.6 L435.5,529.6 L434.0,529.6 L432.5,529.6 L431.0,529.6 L429.5,529.6 L428.0,529.6 L426.5,529.6 L425.0,529.6 L423.5,529.6 L422.0,529.6 L420.5,529.6 L419.0,529.6 L417.1,529.5 L415.3,529.2 L413.5,529.0 L411.6,528.9 A4.1,4.1 0 0 1 411.6,520.7 Z" fill="#000" fill-opacity="1.0"/>
</g></g>
<rect x="509.60" y="368.85" width="14.80" height="5.90" fill="#0000fe"/>
<text x="529.60" y="375.10" font-size="9.6" text-anchor="start" fill="#141414">Control vector + NC shRNA</text>
<rect x="509.60" y="385.55" width="14.80" height="5.90" fill="#fe0000"/>
<text x="529.60" y="391.80" font-size="9.6" text-anchor="start" fill="#141414">BRD9 vector + NC shRNA</text>
<rect x="509.60" y="401.85" width="14.80" height="5.90" fill="#fe0000"/>
<polyline points="511.3,404.2 512.6,404.2 514.0,405.8 516.3,404.2 518.9,405.8 521.3,404.2 522.8,404.2" fill="none" stroke="#fff" stroke-width="1" stroke-opacity="0.85"/>
<text x="529.60" y="408.10" font-size="9.6" text-anchor="start" fill="#141414">BRD9 vector + P300 shRNA</text>
<text x="495.90" y="535.20" font-size="8.6" text-anchor="end" font-weight="bold" fill="#141414">0</text>
<text x="495.90" y="504.74" font-size="8.6" text-anchor="end" font-weight="bold" fill="#141414">2</text>
<text x="495.90" y="474.28" font-size="8.6" text-anchor="end" font-weight="bold" fill="#141414">4</text>
<text x="495.90" y="443.82" font-size="8.6" text-anchor="end" font-weight="bold" fill="#141414">6</text>
<text x="495.90" y="413.36" font-size="8.6" text-anchor="end" font-weight="bold" fill="#141414">8</text>
<text x="483.80" y="468.70" font-size="9.7" text-anchor="middle" transform="rotate(-90 483.80 468.70)" fill="#141414">Relative level of mRNAs</text>
<rect x="505.60" y="516.97" width="13.30" height="15.23" fill="#0000fe"/>
<line x1="529.20" y1="449.96" x2="529.20" y2="443.10" stroke="#fe0000" stroke-width="1.25"/>
<line x1="525.70" y1="443.10" x2="532.70" y2="443.10" stroke="#fe0000" stroke-width="1.25"/>
<rect x="522.60" y="449.96" width="13.20" height="82.24" fill="#fe0000"/>
<line x1="546.35" y1="446.46" x2="546.35" y2="440.82" stroke="#fe0000" stroke-width="1.25"/>
<line x1="542.85" y1="440.82" x2="549.85" y2="440.82" stroke="#fe0000" stroke-width="1.25"/>
<rect x="540.80" y="447.36" width="11.10" height="84.84" fill="url(#chk)" stroke="#fe0000" stroke-width="1.8"/>
<rect x="568.70" y="516.97" width="12.90" height="15.23" fill="#0000fe"/>
<line x1="592.35" y1="516.21" x2="592.35" y2="515.60" stroke="#fe0000" stroke-width="1.25"/>
<line x1="588.85" y1="515.60" x2="595.85" y2="515.60" stroke="#fe0000" stroke-width="1.25"/>
<rect x="585.70" y="516.21" width="13.30" height="15.99" fill="#fe0000"/>
<rect x="603.60" y="529.29" width="11.50" height="2.91" fill="url(#chk)" stroke="#fe0000" stroke-width="1.8"/>
<rect x="631.40" y="516.51" width="13.30" height="15.69" fill="#0000fe"/>
<line x1="655.25" y1="498.39" x2="655.25" y2="495.95" stroke="#fe0000" stroke-width="1.25"/>
<line x1="651.75" y1="495.95" x2="658.75" y2="495.95" stroke="#fe0000" stroke-width="1.25"/>
<rect x="648.80" y="498.39" width="12.90" height="33.81" fill="#fe0000"/>
<rect x="666.70" y="516.35" width="11.50" height="15.85" fill="url(#chk)" stroke="#fe0000" stroke-width="1.8"/>
<text x="530.00" y="546.60" font-size="9.8" text-anchor="middle" fill="#141414">BRD9</text>
<text x="590.00" y="546.60" font-size="9.8" text-anchor="middle" fill="#141414">P300</text>
<text x="656.20" y="546.60" font-size="9.8" text-anchor="middle" fill="#141414">TUFT1</text>
<line x1="515.90" y1="441.00" x2="528.80" y2="441.00" stroke="#1c1c1c" stroke-width="1.4"/>
<text x="522.35" y="444.28" font-size="11.5" text-anchor="middle" fill="#141414">*</text>
<line x1="594.50" y1="511.90" x2="607.50" y2="511.90" stroke="#1c1c1c" stroke-width="1.4"/>
<text x="601.00" y="515.18" font-size="11.5" text-anchor="middle" fill="#141414">*</text>
<line x1="640.30" y1="492.70" x2="652.90" y2="492.70" stroke="#1c1c1c" stroke-width="1.4"/>
<text x="646.60" y="495.98" font-size="11.5" text-anchor="middle" fill="#141414">*</text>
<line x1="658.00" y1="492.70" x2="671.00" y2="492.70" stroke="#1c1c1c" stroke-width="1.4"/>
<text x="664.50" y="495.98" font-size="11.5" text-anchor="middle" fill="#141414">*</text>
<line x1="33.20" y1="18.80" x2="33.20" y2="141.50" stroke="#0c0c0c" stroke-width="1.35"/>
<line x1="32.50" y1="140.80" x2="216.70" y2="140.80" stroke="#0c0c0c" stroke-width="1.35"/>
<line x1="29.80" y1="140.80" x2="33.20" y2="140.80" stroke="#0c0c0c" stroke-width="1.2"/>
<line x1="29.80" y1="110.45" x2="33.20" y2="110.45" stroke="#0c0c0c" stroke-width="1.2"/>
<line x1="29.80" y1="80.10" x2="33.20" y2="80.10" stroke="#0c0c0c" stroke-width="1.2"/>
<line x1="29.80" y1="49.75" x2="33.20" y2="49.75" stroke="#0c0c0c" stroke-width="1.2"/>
<line x1="29.80" y1="19.40" x2="33.20" y2="19.40" stroke="#0c0c0c" stroke-width="1.2"/>
<line x1="44.90" y1="140.80" x2="44.90" y2="144.70" stroke="#0c0c0c" stroke-width="1.2"/>
<line x1="71.40" y1="140.80" x2="71.40" y2="144.70" stroke="#0c0c0c" stroke-width="1.2"/>
<line x1="97.90" y1="140.80" x2="97.90" y2="144.70" stroke="#0c0c0c" stroke-width="1.2"/>
<line x1="124.40" y1="140.80" x2="124.40" y2="144.70" stroke="#0c0c0c" stroke-width="1.2"/>
<line x1="150.90" y1="140.80" x2="150.90" y2="144.70" stroke="#0c0c0c" stroke-width="1.2"/>
<line x1="177.40" y1="140.80" x2="177.40" y2="144.70" stroke="#0c0c0c" stroke-width="1.2"/>
<line x1="203.90" y1="140.80" x2="203.90" y2="144.70" stroke="#0c0c0c" stroke-width="1.2"/>
<line x1="263.60" y1="18.75" x2="263.60" y2="141.70" stroke="#0c0c0c" stroke-width="1.35"/>
<line x1="262.90" y1="141.00" x2="447.00" y2="141.00" stroke="#0c0c0c" stroke-width="1.35"/>
<line x1="260.20" y1="141.00" x2="263.60" y2="141.00" stroke="#0c0c0c" stroke-width="1.2"/>
<line x1="260.20" y1="100.45" x2="263.60" y2="100.45" stroke="#0c0c0c" stroke-width="1.2"/>
<line x1="260.20" y1="59.90" x2="263.60" y2="59.90" stroke="#0c0c0c" stroke-width="1.2"/>
<line x1="260.20" y1="19.35" x2="263.60" y2="19.35" stroke="#0c0c0c" stroke-width="1.2"/>
<line x1="275.40" y1="141.00" x2="275.40" y2="144.90" stroke="#0c0c0c" stroke-width="1.2"/>
<line x1="301.90" y1="141.00" x2="301.90" y2="144.90" stroke="#0c0c0c" stroke-width="1.2"/>
<line x1="328.40" y1="141.00" x2="328.40" y2="144.90" stroke="#0c0c0c" stroke-width="1.2"/>
<line x1="354.90" y1="141.00" x2="354.90" y2="144.90" stroke="#0c0c0c" stroke-width="1.2"/>
<line x1="381.40" y1="141.00" x2="381.40" y2="144.90" stroke="#0c0c0c" stroke-width="1.2"/>
<line x1="407.90" y1="141.00" x2="407.90" y2="144.90" stroke="#0c0c0c" stroke-width="1.2"/>
<line x1="434.40" y1="141.00" x2="434.40" y2="144.90" stroke="#0c0c0c" stroke-width="1.2"/>
<line x1="498.60" y1="17.80" x2="498.60" y2="140.50" stroke="#0c0c0c" stroke-width="1.35"/>
<line x1="497.90" y1="139.80" x2="681.60" y2="139.80" stroke="#0c0c0c" stroke-width="1.35"/>
<line x1="495.20" y1="139.80" x2="498.60" y2="139.80" stroke="#0c0c0c" stroke-width="1.2"/>
<line x1="495.20" y1="109.45" x2="498.60" y2="109.45" stroke="#0c0c0c" stroke-width="1.2"/>
<line x1="495.20" y1="79.10" x2="498.60" y2="79.10" stroke="#0c0c0c" stroke-width="1.2"/>
<line x1="495.20" y1="48.75" x2="498.60" y2="48.75" stroke="#0c0c0c" stroke-width="1.2"/>
<line x1="495.20" y1="18.40" x2="498.60" y2="18.40" stroke="#0c0c0c" stroke-width="1.2"/>
<line x1="551.00" y1="139.80" x2="551.00" y2="143.90" stroke="#0c0c0c" stroke-width="1.2"/>
<line x1="628.70" y1="139.80" x2="628.70" y2="143.90" stroke="#0c0c0c" stroke-width="1.2"/>
<line x1="39.40" y1="203.25" x2="39.40" y2="325.90" stroke="#0c0c0c" stroke-width="1.35"/>
<line x1="38.70" y1="325.20" x2="222.60" y2="325.20" stroke="#0c0c0c" stroke-width="1.35"/>
<line x1="36.00" y1="325.20" x2="39.40" y2="325.20" stroke="#0c0c0c" stroke-width="1.2"/>
<line x1="36.00" y1="284.75" x2="39.40" y2="284.75" stroke="#0c0c0c" stroke-width="1.2"/>
<line x1="36.00" y1="244.30" x2="39.40" y2="244.30" stroke="#0c0c0c" stroke-width="1.2"/>
<line x1="36.00" y1="203.85" x2="39.40" y2="203.85" stroke="#0c0c0c" stroke-width="1.2"/>
<line x1="91.50" y1="325.20" x2="91.50" y2="329.30" stroke="#0c0c0c" stroke-width="1.2"/>
<line x1="170.10" y1="325.20" x2="170.10" y2="329.30" stroke="#0c0c0c" stroke-width="1.2"/>
<line x1="264.80" y1="202.80" x2="264.80" y2="324.70" stroke="#0c0c0c" stroke-width="1.35"/>
<line x1="264.10" y1="324.00" x2="444.50" y2="324.00" stroke="#0c0c0c" stroke-width="1.35"/>
<line x1="261.40" y1="324.00" x2="264.80" y2="324.00" stroke="#0c0c0c" stroke-width="1.2"/>
<line x1="261.40" y1="293.85" x2="264.80" y2="293.85" stroke="#0c0c0c" stroke-width="1.2"/>
<line x1="261.40" y1="263.70" x2="264.80" y2="263.70" stroke="#0c0c0c" stroke-width="1.2"/>
<line x1="261.40" y1="233.55" x2="264.80" y2="233.55" stroke="#0c0c0c" stroke-width="1.2"/>
<line x1="261.40" y1="203.40" x2="264.80" y2="203.40" stroke="#0c0c0c" stroke-width="1.2"/>
<line x1="300.50" y1="324.00" x2="300.50" y2="328.10" stroke="#0c0c0c" stroke-width="1.2"/>
<line x1="354.60" y1="324.00" x2="354.60" y2="328.10" stroke="#0c0c0c" stroke-width="1.2"/>
<line x1="408.40" y1="324.00" x2="408.40" y2="328.10" stroke="#0c0c0c" stroke-width="1.2"/>
<line x1="502.30" y1="200.80" x2="502.30" y2="323.60" stroke="#0c0c0c" stroke-width="1.35"/>
<line x1="501.60" y1="322.90" x2="685.50" y2="322.90" stroke="#0c0c0c" stroke-width="1.35"/>
<line x1="498.90" y1="322.90" x2="502.30" y2="322.90" stroke="#0c0c0c" stroke-width="1.2"/>
<line x1="498.90" y1="282.40" x2="502.30" y2="282.40" stroke="#0c0c0c" stroke-width="1.2"/>
<line x1="498.90" y1="241.90" x2="502.30" y2="241.90" stroke="#0c0c0c" stroke-width="1.2"/>
<line x1="498.90" y1="201.40" x2="502.30" y2="201.40" stroke="#0c0c0c" stroke-width="1.2"/>
<line x1="538.80" y1="322.90" x2="538.80" y2="327.00" stroke="#0c0c0c" stroke-width="1.2"/>
<line x1="593.20" y1="322.90" x2="593.20" y2="327.00" stroke="#0c0c0c" stroke-width="1.2"/>
<line x1="647.60" y1="322.90" x2="647.60" y2="327.00" stroke="#0c0c0c" stroke-width="1.2"/>
<line x1="33.50" y1="410.50" x2="33.50" y2="533.90" stroke="#0c0c0c" stroke-width="1.35"/>
<line x1="32.80" y1="533.20" x2="218.40" y2="533.20" stroke="#0c0c0c" stroke-width="1.35"/>
<line x1="30.10" y1="533.20" x2="33.50" y2="533.20" stroke="#0c0c0c" stroke-width="1.2"/>
<line x1="30.10" y1="492.80" x2="33.50" y2="492.80" stroke="#0c0c0c" stroke-width="1.2"/>
<line x1="30.10" y1="452.40" x2="33.50" y2="452.40" stroke="#0c0c0c" stroke-width="1.2"/>
<line x1="30.10" y1="411.10" x2="33.50" y2="411.10" stroke="#0c0c0c" stroke-width="1.2"/>
<line x1="62.80" y1="533.20" x2="62.80" y2="536.90" stroke="#0c0c0c" stroke-width="1.2"/>
<line x1="125.80" y1="533.20" x2="125.80" y2="536.90" stroke="#0c0c0c" stroke-width="1.2"/>
<line x1="189.10" y1="533.20" x2="189.10" y2="536.90" stroke="#0c0c0c" stroke-width="1.2"/>
<line x1="500.50" y1="409.76" x2="500.50" y2="532.90" stroke="#0c0c0c" stroke-width="1.35"/>
<line x1="499.80" y1="532.20" x2="685.50" y2="532.20" stroke="#0c0c0c" stroke-width="1.35"/>
<line x1="497.10" y1="532.20" x2="500.50" y2="532.20" stroke="#0c0c0c" stroke-width="1.2"/>
<line x1="497.10" y1="501.74" x2="500.50" y2="501.74" stroke="#0c0c0c" stroke-width="1.2"/>
<line x1="497.10" y1="471.28" x2="500.50" y2="471.28" stroke="#0c0c0c" stroke-width="1.2"/>
<line x1="497.10" y1="440.82" x2="500.50" y2="440.82" stroke="#0c0c0c" stroke-width="1.2"/>
<line x1="497.10" y1="410.36" x2="500.50" y2="410.36" stroke="#0c0c0c" stroke-width="1.2"/>
<line x1="529.20" y1="532.20" x2="529.20" y2="535.90" stroke="#0c0c0c" stroke-width="1.2"/>
<line x1="592.30" y1="532.20" x2="592.30" y2="535.90" stroke="#0c0c0c" stroke-width="1.2"/>
<line x1="655.30" y1="532.20" x2="655.30" y2="535.90" stroke="#0c0c0c" stroke-width="1.2"/>
</svg>
</body>
</html>
